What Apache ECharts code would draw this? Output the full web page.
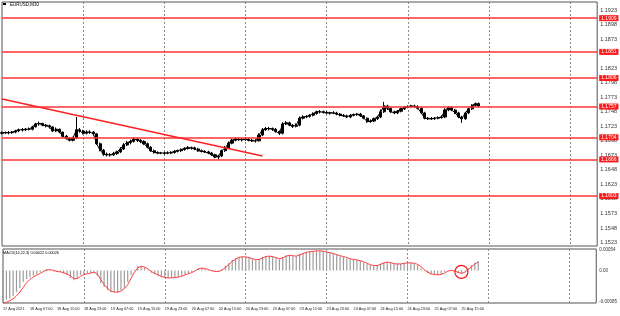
<!DOCTYPE html>
<html><head><meta charset="utf-8">
<script src="https://cdn.jsdelivr.net/npm/echarts@6/dist/echarts.min.js"></script>
<style>html,body{margin:0;padding:0;background:#fff}#c{width:620px;height:316px}</style>
</head><body><div id="c"></div>
<script>
// hourly sessions: [day, firstHour, lastHour]
const sessions = [['17 Aug',23,23],['18 Aug',0,23],['19 Aug',0,23],['20 Aug',0,23],['23 Aug',0,23],['24 Aug',0,23],['25 Aug',0,23],['26 Aug',0,23],['27 Aug',0,7]];
const firstLabel = '17 Aug 2021';
const lastDataIndex = 141;
// [open, close, low, high]
const ohlc = [
[1.1711,1.1712,1.1709,1.1714],[1.1712,1.1712,1.1710,1.1714],[1.1712,1.1712,1.1709,1.1715],[1.1712,1.1713,1.1710,1.1715],
[1.1713,1.1715,1.1711,1.1717],[1.1715,1.1717,1.1713,1.1719],[1.1717,1.1717,1.1714,1.1720],[1.1717,1.1718,1.1715,1.1720],
[1.1718,1.1718,1.1716,1.1721],[1.1718,1.1722,1.1716,1.1724],[1.1722,1.1727,1.1721,1.1729],[1.1727,1.1728,1.1724,1.1731],
[1.1728,1.1725,1.1723,1.1729],[1.1725,1.1724,1.1721,1.1727],[1.1724,1.1722,1.1719,1.1726],[1.1722,1.1715,1.1713,1.1723],
[1.1715,1.1718,1.1713,1.1721],[1.1718,1.1713,1.1711,1.1719],[1.1713,1.1706,1.1704,1.1714],[1.1706,1.1702,1.1700,1.1708],
[1.1702,1.1699,1.1697,1.1704],[1.1699,1.1703,1.1697,1.1705],[1.1703,1.1717,1.1701,1.1739],[1.1717,1.1715,1.1712,1.1720],
[1.1715,1.1711,1.1709,1.1717],[1.1711,1.1713,1.1709,1.1716],[1.1713,1.1713,1.1710,1.1716],[1.1713,1.1710,1.1707,1.1715],
[1.1710,1.1693,1.1691,1.1711],[1.1693,1.1682,1.1680,1.1695],[1.1682,1.1675,1.1672,1.1684],[1.1675,1.1674,1.1671,1.1678],
[1.1674,1.1674,1.1671,1.1677],[1.1674,1.1676,1.1672,1.1679],[1.1676,1.1679,1.1674,1.1681],[1.1679,1.1684,1.1677,1.1687],
[1.1684,1.1691,1.1682,1.1694],[1.1691,1.1695,1.1689,1.1698],[1.1695,1.1697,1.1692,1.1700],[1.1697,1.1701,1.1695,1.1704],
[1.1701,1.1699,1.1696,1.1703],[1.1699,1.1697,1.1694,1.1701],[1.1697,1.1693,1.1691,1.1699],[1.1693,1.1687,1.1685,1.1695],
[1.1687,1.1681,1.1679,1.1689],[1.1681,1.1678,1.1676,1.1683],[1.1678,1.1677,1.1675,1.1680],[1.1677,1.1677,1.1675,1.1679],
[1.1677,1.1677,1.1674,1.1679],[1.1677,1.1677,1.1675,1.1680],[1.1677,1.1678,1.1675,1.1680],[1.1678,1.1680,1.1676,1.1682],
[1.1680,1.1681,1.1678,1.1683],[1.1681,1.1683,1.1679,1.1685],[1.1683,1.1685,1.1681,1.1687],[1.1685,1.1686,1.1683,1.1689],
[1.1686,1.1686,1.1683,1.1688],[1.1686,1.1684,1.1682,1.1688],[1.1684,1.1681,1.1679,1.1686],[1.1681,1.1680,1.1678,1.1683],
[1.1680,1.1679,1.1677,1.1682],[1.1679,1.1677,1.1675,1.1681],[1.1677,1.1674,1.1672,1.1679],[1.1674,1.1670,1.1668,1.1676],
[1.1670,1.1672,1.1666,1.1674],[1.1672,1.1681,1.1670,1.1683],[1.1681,1.1686,1.1679,1.1689],[1.1686,1.1694,1.1684,1.1697],
[1.1694,1.1699,1.1692,1.1702],[1.1699,1.1701,1.1697,1.1704],[1.1701,1.1700,1.1698,1.1703],[1.1700,1.1700,1.1697,1.1703],
[1.1700,1.1701,1.1698,1.1704],[1.1701,1.1699,1.1697,1.1703],[1.1699,1.1698,1.1696,1.1701],[1.1698,1.1698,1.1695,1.1701],
[1.1698,1.1708,1.1697,1.1711],[1.1708,1.1717,1.1706,1.1720],[1.1717,1.1719,1.1715,1.1722],[1.1719,1.1719,1.1716,1.1722],
[1.1719,1.1718,1.1715,1.1721],[1.1718,1.1714,1.1712,1.1720],[1.1714,1.1711,1.1708,1.1716],[1.1711,1.1727,1.1709,1.1730],
[1.1727,1.1729,1.1725,1.1732],[1.1729,1.1725,1.1723,1.1731],[1.1725,1.1723,1.1720,1.1727],[1.1723,1.1725,1.1721,1.1728],
[1.1725,1.1737,1.1723,1.1740],[1.1737,1.1739,1.1735,1.1742],[1.1739,1.1740,1.1737,1.1742],[1.1740,1.1742,1.1738,1.1744],
[1.1742,1.1745,1.1740,1.1747],[1.1745,1.1748,1.1743,1.1750],[1.1748,1.1748,1.1745,1.1751],[1.1748,1.1747,1.1745,1.1750],
[1.1747,1.1746,1.1744,1.1749],[1.1746,1.1746,1.1743,1.1748],[1.1746,1.1746,1.1744,1.1749],[1.1746,1.1744,1.1742,1.1748],
[1.1744,1.1742,1.1740,1.1746],[1.1742,1.1741,1.1739,1.1744],[1.1741,1.1739,1.1737,1.1743],[1.1739,1.1742,1.1737,1.1744],
[1.1742,1.1743,1.1740,1.1745],[1.1743,1.1744,1.1741,1.1746],[1.1744,1.1741,1.1739,1.1746],[1.1741,1.1737,1.1735,1.1742],
[1.1737,1.1731,1.1729,1.1738],[1.1731,1.1732,1.1729,1.1735],[1.1732,1.1736,1.1730,1.1738],[1.1736,1.1739,1.1734,1.1741],
[1.1739,1.1748,1.1737,1.1752],[1.1748,1.1758,1.1746,1.1765],[1.1758,1.1754,1.1751,1.1760],[1.1754,1.1748,1.1746,1.1756],
[1.1748,1.1746,1.1744,1.1750],[1.1746,1.1749,1.1744,1.1751],[1.1749,1.1753,1.1747,1.1755],[1.1753,1.1756,1.1751,1.1758],
[1.1756,1.1757,1.1754,1.1759],[1.1757,1.1758,1.1755,1.1760],[1.1758,1.1757,1.1755,1.1760],[1.1757,1.1754,1.1752,1.1759],
[1.1754,1.1746,1.1744,1.1756],[1.1746,1.1737,1.1735,1.1748],[1.1737,1.1736,1.1734,1.1739],[1.1736,1.1736,1.1734,1.1739],
[1.1736,1.1737,1.1734,1.1739],[1.1737,1.1738,1.1735,1.1740],[1.1738,1.1739,1.1736,1.1742],[1.1739,1.1751,1.1737,1.1754],
[1.1751,1.1755,1.1749,1.1757],[1.1755,1.1751,1.1749,1.1757],[1.1751,1.1746,1.1744,1.1753],[1.1746,1.1739,1.1737,1.1748],
[1.1739,1.1736,1.1729,1.1741],[1.1736,1.1746,1.1734,1.1748],[1.1746,1.1753,1.1744,1.1755],[1.1753,1.1759,1.1751,1.1761],
[1.1759,1.1762,1.1757,1.1764],[1.1762,1.1758,1.1756,1.1764]
];
const macd = [-0.00084,-0.00079,-0.00075,-0.00068,-0.00058,-0.00047,-0.00031,-0.00023,-0.00018,-0.00014,-0.00010,-0.00004,0.00001,0.00004,0.00001,-0.00003,-0.00004,-0.00004,-0.00008,-0.00012,-0.00020,-0.00026,-0.00020,-0.00012,-0.00010,-0.00007,-0.00006,-0.00004,-0.00015,-0.00034,-0.00044,-0.00052,-0.00058,-0.00058,-0.00058,-0.00052,-0.00046,-0.00031,-0.00012,0.00002,0.00012,0.00010,0.00008,0.00001,-0.00006,-0.00010,-0.00014,-0.00018,-0.00020,-0.00020,-0.00020,-0.00019,-0.00018,-0.00014,-0.00011,-0.00008,-0.00004,0.00001,0.00006,0.00006,0.00004,0.00001,-0.00002,-0.00004,-0.00003,0.00004,0.00012,0.00020,0.00028,0.00033,0.00036,0.00037,0.00036,0.00033,0.00030,0.00028,0.00030,0.00036,0.00038,0.00038,0.00036,0.00033,0.00030,0.00036,0.00040,0.00040,0.00038,0.00038,0.00044,0.00046,0.00049,0.00050,0.00052,0.00052,0.00052,0.00050,0.00049,0.00046,0.00044,0.00041,0.00038,0.00036,0.00032,0.00030,0.00029,0.00028,0.00025,0.00021,0.00017,0.00014,0.00013,0.00014,0.00018,0.00022,0.00022,0.00020,0.00017,0.00017,0.00018,0.00020,0.00020,0.00020,0.00018,0.00014,0.00006,-0.00002,-0.00007,-0.00011,-0.00012,-0.00012,-0.00011,-0.00004,0.00000,0.00000,-0.00003,-0.00007,-0.00010,-0.00002,0.00006,0.00014,0.00021,0.00025];
const signal = [-0.00088,-0.00085,-0.00081,-0.00076,-0.00068,-0.00058,-0.00045,-0.00033,-0.00024,-0.00018,-0.00013,-0.00008,-0.00003,0.00001,0.00002,0.00000,-0.00003,-0.00004,-0.00006,-0.00010,-0.00015,-0.00022,-0.00022,-0.00016,-0.00011,-0.00009,-0.00007,-0.00005,-0.00010,-0.00024,-0.00038,-0.00048,-0.00055,-0.00058,-0.00058,-0.00055,-0.00049,-0.00038,-0.00021,-0.00005,0.00007,0.00011,0.00009,0.00004,-0.00003,-0.00008,-0.00012,-0.00016,-0.00019,-0.00020,-0.00020,-0.00019,-0.00018,-0.00016,-0.00012,-0.00009,-0.00006,-0.00001,0.00004,0.00006,0.00005,0.00002,-0.00001,-0.00003,-0.00003,0.00001,0.00008,0.00016,0.00024,0.00030,0.00035,0.00036,0.00036,0.00034,0.00031,0.00029,0.00029,0.00033,0.00037,0.00038,0.00037,0.00034,0.00031,0.00033,0.00038,0.00040,0.00039,0.00038,0.00041,0.00045,0.00048,0.00050,0.00051,0.00052,0.00052,0.00051,0.00049,0.00047,0.00045,0.00042,0.00039,0.00037,0.00034,0.00031,0.00029,0.00028,0.00026,0.00023,0.00019,0.00015,0.00013,0.00013,0.00016,0.00020,0.00022,0.00021,0.00018,0.00017,0.00017,0.00019,0.00020,0.00020,0.00019,0.00016,0.00010,0.00002,-0.00005,-0.00009,-0.00011,-0.00012,-0.00011,-0.00007,-0.00002,0.00000,-0.00002,-0.00005,-0.00008,-0.00005,0.00002,0.00010,0.00017,0.00022];
const levels = [1.1909,1.1851,1.1806,1.1757,1.1704,1.1666,1.1603];
const trend = [[0,1.17699],[77,1.16719]];
const circleAt = [136,-0.00004];
const priceTicks = [1.1923,1.1898,1.1873,1.1848,1.1823,1.1798,1.1773,1.1748,1.1723,1.1698,1.1673,1.1648,1.1623,1.1598,1.1573,1.1548,1.1523];
const macdTicks = [0.00054,0,-0.00085];
const priceRange = [1.15171,1.19368];
const macdRange = [-0.00087,0.00057];
const title = 'EURUSD,M30';
const macdTitle = 'MACD(14,22,3) 0.00022 0.00026';

const cats = [];
sessions.forEach(([d,h0,h1])=>{for(let h=h0;h<=h1;h++)cats.push(d+' '+String(h).padStart(2,'0')+':00');});
const closes = ohlc.map(d=>d[1]);
const lastCat = cats.length - 1;

const chart = echarts.init(document.getElementById('c'));
const F = 'Liberation Sans, Arial, sans-serif';
const gridLine = {show:true, interval:(i)=>i>0 && i%24===0, lineStyle:{color:'#8a8a8a', type:[2,2], width:1}};
const levelLines = levels.map(v=>[
  {coord:[0,v], lineStyle:{color:'#ff3333', width:1.6, type:'solid'},
   label:{show:true, position:'end', distance:2, formatter:v.toFixed(4), color:'#fff', backgroundColor:'#ff1a1a', padding:[1,2,0,2], fontSize:5, fontFamily:F}},
  {coord:[lastCat,v]}
]);
chart.setOption({
  animation:false,
  backgroundColor:'#fff',
  graphic:[
    {type:'text', left:10, top:2, style:{text:title, font:'4.5px '+F, fill:'#000'}},
    {type:'rect', left:3, top:3, shape:{width:3,height:2}, style:{fill:'#000'}},
    {type:'text', left:3, top:251, style:{text:macdTitle, font:'3.8px '+F, fill:'#000'}}
  ],
  grid:[
    {left:2, right:22, top:2, height:244, show:true, borderColor:'#555', borderWidth:1},
    {left:2, right:22, top:249, height:54, show:true, borderColor:'#555', borderWidth:1}
  ],
  xAxis:[
    {type:'category', gridIndex:0, data:cats, boundaryGap:false, axisLine:{show:false}, axisTick:{show:false}, axisLabel:{show:false}, splitLine:gridLine},
    {type:'category', gridIndex:1, data:cats, boundaryGap:false, axisLine:{show:false}, axisTick:{show:false}, splitLine:gridLine,
      axisLabel:{show:true, interval:(i)=>i%8===0 && i<=lastDataIndex, align:'left', margin:4, fontSize:3.8, fontFamily:F, color:'#222',
        formatter:(v,i)=>i===0?firstLabel:v}}
  ],
  yAxis:[
    {type:'value', gridIndex:0, position:'right', min:priceRange[0], max:priceRange[1], splitLine:{show:false}, axisLine:{show:false}, axisTick:{show:false},
      axisLabel:{customValues:priceTicks, fontSize:5.5, fontFamily:F, color:'#333', margin:3, formatter:v=>v.toFixed(4)}},
    {type:'value', gridIndex:1, position:'right', min:macdRange[0], max:macdRange[1], splitLine:{show:false}, axisLine:{show:false}, axisTick:{show:false},
      axisLabel:{customValues:macdTicks, fontSize:4.5, fontFamily:F, color:'#333', margin:3, formatter:v=>v===0?'0.00':v.toFixed(5)}}
  ],
  series:[
    {type:'line', xAxisIndex:0, yAxisIndex:0, data:closes, symbol:'none', lineStyle:{color:'#000', width:1}, z:3,
      markLine:{silent:true, symbol:['none','none'], animation:false, precision:5,
        data:[...levelLines,
          [{coord:trend[0], lineStyle:{color:'#ff2020', width:1.4, type:'solid'}, label:{show:false}}, {coord:trend[1]}]
        ]}
    },
    {type:'candlestick', xAxisIndex:0, yAxisIndex:0, data:ohlc, barWidth:2.6, z:4,
      itemStyle:{color:'#000', color0:'#000', borderColor:'#000', borderColor0:'#000', borderWidth:1}},
    {type:'bar', xAxisIndex:1, yAxisIndex:1, data:macd, barWidth:1.2, itemStyle:{color:'#9c9c9c'},
      markPoint:{symbol:'circle', symbolSize:13, data:[{coord:circleAt}], label:{show:false}, itemStyle:{color:'rgba(0,0,0,0)', borderColor:'#ff1a1a', borderWidth:1.2}}},
    {type:'line', xAxisIndex:1, yAxisIndex:1, data:signal, symbol:'none', smooth:false, lineStyle:{color:'#ff4040', width:1}}
  ]
});
</script></body></html>
